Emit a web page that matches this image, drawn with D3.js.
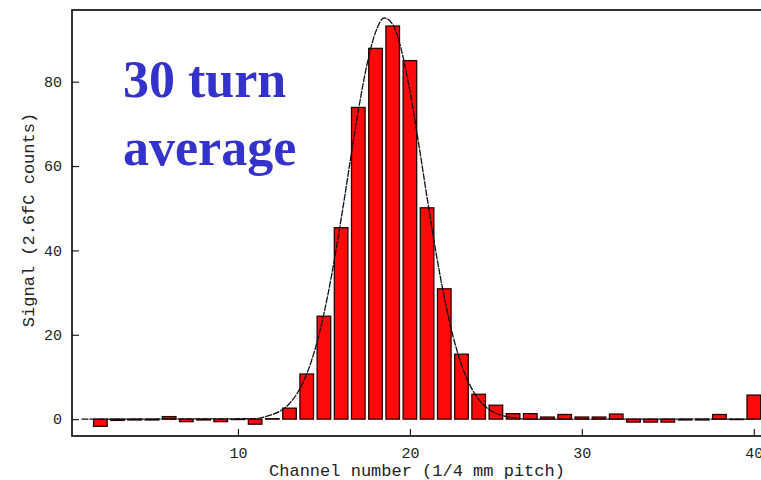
<!DOCTYPE html>
<html><head><meta charset="utf-8">
<script src="https://cdn.jsdelivr.net/npm/d3@7"></script>
<style>body{margin:0;background:#fff}svg{display:block}</style>
</head><body>
<svg id="c" width="761" height="480"></svg>
<script>
// Bar data: channel number and signal (2.6fC counts)
const channels = d3.range(1, 41);
const signal = [0, -1.7, -0.3, -0.2, -0.2, 0.6, -0.6, -0.2, -0.6, -0.1,
                -1.2, 0.1, 2.6, 10.7, 24.4, 45.4, 73.9, 87.9, 93.2, 85.0,
                50.1, 30.9, 15.4, 5.9, 3.3, 1.3, 1.3, 0.5, 1.1, 0.5,
                0.5, 1.2, -0.7, -0.7, -0.7, -0.2, -0.2, 1.1, -0.1, 5.7];
// Fitted curve, points
const fitX = [0.9, 11, 11.5, 12, 12.5, 13, 13.5, 14, 14.5, 15, 15.5, 16, 16.5, 17, 17.5,
              18, 18.5, 19, 19.5, 20, 20.5, 21, 21.5, 22, 22.5, 23, 23.5, 24, 24.5,
              25, 25.5, 26, 27, 40];
const fitY = [0, 0.1, 0.5, 1.1, 2.0, 3.7, 6.5, 10.7, 16.8, 25.0, 35.3, 47.4, 60.4, 73.1, 84.0,
              91.7, 95.1, 93.6, 87.6, 77.8, 65.6, 52.5, 39.9, 28.9, 19.8, 12.9, 8.0, 4.7, 2.6,
              1.4, 0.7, 0.3, 0, 0];
const xMajor = [10, 20, 30, 40];
const xMinor = d3.range(2, 41, 2);
const yMajor = [0, 20, 40, 60, 80];
const yMinor = d3.range(0, 96, 5);
const xTitle = "Channel number (1/4 mm pitch)";
const yTitle = "Signal (2.6fC counts)";
const note = ["30 turn", "average"];

const svg = d3.select("#c");
const x = d3.scaleLinear().domain([0.35, 41]).range([72, 771]);
const y = d3.scaleLinear().domain([-4, 97]).range([436, 10]);
const mono = "'Liberation Mono', 'DejaVu Sans Mono', monospace";

// bars
const hw = 0.395;
svg.append("g").selectAll("rect").data(channels).join("rect")
  .attr("x", c => x(c - hw))
  .attr("width", c => x(c + hw) - x(c - hw))
  .attr("y", (c, i) => y(Math.max(0, signal[i])))
  .attr("height", (c, i) => Math.abs(y(signal[i]) - y(0)))
  .attr("fill", "#ff0a0a")
  .attr("stroke", "#2a0000")
  .attr("stroke-width", 1.3);

// fit curve
const line = d3.line().x((d, i) => x(fitX[i])).y(d => y(d)).curve(d3.curveMonotoneX);
svg.append("path").datum(fitY).attr("d", line)
  .attr("fill", "none").attr("stroke", "#111").attr("stroke-width", 1.3)
  .attr("stroke-dasharray", "7,1");

// axes
const gx = svg.append("g").attr("transform", "translate(0,436)");
gx.call(d3.axisBottom(x).tickValues(xMinor).tickSize(-4).tickFormat(""));
gx.call(d3.axisBottom(x).tickValues(xMajor).tickSize(-7).tickPadding(11).tickFormat(d3.format("d")));
const gy = svg.append("g").attr("transform", "translate(72,0)");
gy.call(d3.axisLeft(y).tickValues(yMinor).tickSize(-5).tickFormat(""));
gy.call(d3.axisLeft(y).tickValues(yMajor).tickSize(-7).tickPadding(10).tickFormat(d3.format("d")));
svg.selectAll(".domain").remove();
svg.selectAll(".tick line").attr("stroke", "#222").attr("stroke-width", 1.2);
svg.selectAll(".tick text").attr("font-family", mono).attr("font-size", 15).attr("fill", "#222");

// frame
svg.append("rect").attr("x", x.range()[0]).attr("y", y.range()[1])
  .attr("width", x.range()[1] - x.range()[0]).attr("height", y.range()[0] - y.range()[1])
  .attr("fill", "none").attr("stroke", "#000").attr("stroke-width", 1.6);

// titles
svg.append("text").attr("x", 417).attr("y", 476).attr("text-anchor", "middle")
  .attr("font-family", mono).attr("font-size", 17).attr("fill", "#222").text(xTitle);
svg.append("text").attr("transform", "translate(34,220) rotate(-90)").attr("text-anchor", "middle")
  .attr("font-family", mono).attr("font-size", 17).attr("fill", "#222").text(yTitle);

// annotation
svg.append("g").selectAll("text").data(note).join("text")
  .attr("x", 123).attr("y", (d, i) => 97 + i * 68)
  .attr("font-family", "'Liberation Serif', 'Times New Roman', serif")
  .attr("font-weight", "bold").attr("font-size", 52).attr("fill", "#3333cc")
  .text(d => d);
</script>
</body></html>
